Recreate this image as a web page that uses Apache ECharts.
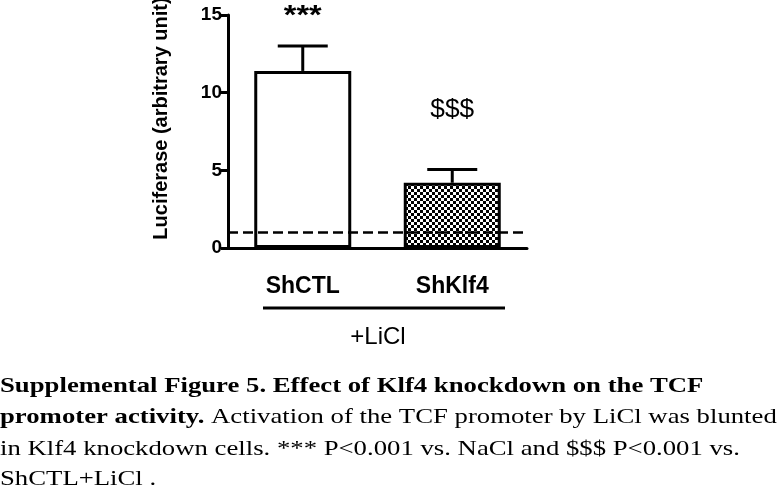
<!DOCTYPE html>
<html><head><meta charset="utf-8">
<script src="https://cdn.jsdelivr.net/npm/echarts@6/dist/echarts.min.js"></script>
<style>html,body{margin:0;padding:0;background:#fff}#c{width:777px;height:494px}</style>
</head><body><div id="c"></div>
<script>
var categories = ['ShCTL', 'ShKlf4'];
var means = [11.4, 4.2];
var upperErr = [13.0, 5.05];
var annotations = ['***', '$$$'];
var annotationY = [14.87, 8.85];
var baselineValue = [1];
var yTicks = [0, 5, 10, 15];
var groupLabel = '+LiCl';
var yName = 'Luciferase (arbitrary unit)';

var pc = document.createElement('canvas');
pc.width = 6; pc.height = 6;
var g = pc.getContext('2d');
g.fillStyle = '#000';
g.fillRect(0, 0, 3, 3);
g.fillRect(3, 3, 3, 3);

var chart = echarts.init(document.getElementById('c'), null, {renderer: 'canvas'});
var SANS = 'Liberation Sans, Arial, sans-serif';
var SERIF = 'Liberation Serif, Times New Roman, serif';
var SX = 1.215;

var option = {
  backgroundColor: '#fff',
  animation: false,
  grid: {left: 228, top: 15, width: 299, height: 233, containLabel: false, outerBoundsMode: 'none'},
  xAxis: {
    type: 'category', data: categories,
    axisLine: {lineStyle: {color: '#000', width: 3}},
    axisTick: {show: false},
    axisLabel: {color: '#000', fontFamily: SANS, fontWeight: 'bold', fontSize: 23, margin: 27}
  },
  yAxis: {
    type: 'value', min: yTicks[0], max: yTicks[yTicks.length - 1], interval: 5,
    name: yName, nameLocation: 'middle', nameRotate: 90, nameGap: 57,
    nameTextStyle: {color: '#000', fontFamily: SANS, fontWeight: 'bold', fontSize: 20, padding: [0, 0, 0, 26]},
    axisLine: {show: true, lineStyle: {color: '#000', width: 3}},
    axisTick: {show: true, inside: false, length: 7, lineStyle: {color: '#000', width: 3}},
    axisLabel: {color: '#000', fontFamily: SANS, fontWeight: 'bold', fontSize: 19, margin: 6},
    splitLine: {show: false}
  },
  series: [
    {
      type: 'line', data: [], z: 1, silent: true,
      markLine: {
        silent: true, symbol: 'none', animation: false,
        label: {show: false},
        lineStyle: {color: '#000', width: 2.5, type: [10, 5]},
        data: [{yAxis: baselineValue[0]}]
      }
    },
    {
      type: 'bar', z: 3, barWidth: 97,
      data: means.map(function (v, i) {
        return {
          value: v,
          itemStyle: i === 0 ? {color: '#fff', borderColor: '#000', borderWidth: 3}
                             : {color: {image: pc, repeat: 'repeat'}, borderColor: '#000', borderWidth: 3}
        };
      })
    },
    {
      type: 'custom', z: 4,
      data: means.map(function (v, i) { return [i, v, upperErr[i]]; }),
      renderItem: function (params, api) {
        var p0 = api.coord([api.value(0), api.value(1)]);
        var p1 = api.coord([api.value(0), api.value(2)]);
        var hw = 25;
        var st = {stroke: '#000', lineWidth: 3};
        return {type: 'group', children: [
          {type: 'line', shape: {x1: p0[0], y1: p0[1], x2: p1[0], y2: p1[1]}, style: st},
          {type: 'line', shape: {x1: p1[0] - hw, y1: p1[1], x2: p1[0] + hw, y2: p1[1]}, style: st}
        ]};
      }
    },
    {
      type: 'custom', z: 5,
      data: annotations.map(function (t, i) { return [i, annotationY[i], t]; }),
      renderItem: function (params, api) {
        var p = api.coord([api.value(0), api.value(1)]);
        var i = params.dataIndex;
        return {type: 'text', x: p[0], y: p[1], scaleX: i === 0 ? 1.2 : 1.05, style: {
          text: annotations[i], align: 'center', verticalAlign: 'middle',
          fontFamily: SANS, fontSize: i === 0 ? 27 : 25, fontWeight: i === 0 ? 'bold' : 'normal', fill: '#000'
        }};
      }
    }
  ],
  graphic: [
    {type: 'line', shape: {x1: 263, y1: 308, x2: 505, y2: 308}, style: {stroke: '#000', lineWidth: 3}},
    {type: 'text', x: 378, y: 337, style: {text: groupLabel, align: 'center', verticalAlign: 'middle', fontFamily: SANS, fontSize: 24, fill: '#000'}},
    {type: 'text', x: 0, y: 386, scaleX: SX, style: {
      text: '{b|Supplemental Figure 5. Effect of Klf4 knockdown on the TCF}',
      verticalAlign: 'middle',
      rich: {b: {fontFamily: SERIF, fontWeight: 'bold', fontSize: 22, fill: '#000'}}
    }},
    {type: 'text', x: 0, y: 417, scaleX: SX, style: {
      text: '{b|promoter activity.}{n| Activation of the TCF promoter by LiCl was blunted}',
      verticalAlign: 'middle',
      rich: {b: {fontFamily: SERIF, fontWeight: 'bold', fontSize: 22, fill: '#000'},
             n: {fontFamily: SERIF, fontSize: 22, fill: '#000'}}
    }},
    {type: 'text', x: 0, y: 449, scaleX: SX, style: {
      text: 'in Klf4 knockdown cells. *** P<0.001 vs. NaCl and $$$ P<0.001 vs.',
      verticalAlign: 'middle', fontFamily: SERIF, fontSize: 22, fill: '#000'
    }},
    {type: 'text', x: 0, y: 479, scaleX: SX, style: {
      text: 'ShCTL+LiCl .',
      verticalAlign: 'middle', fontFamily: SERIF, fontSize: 22, fill: '#000'
    }}
  ]
};
chart.setOption(option);
</script>
</body></html>
